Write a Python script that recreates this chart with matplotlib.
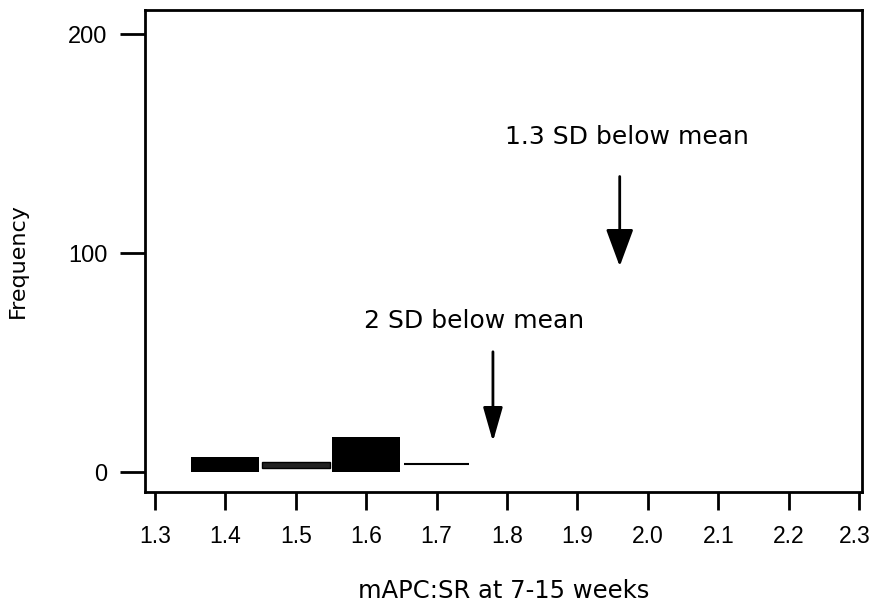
import numpy as np
import matplotlib
matplotlib.use("Agg")
from matplotlib import pyplot as plt
from matplotlib import transforms

# histogram bins of mAPC:SR (left edge, right edge) and counts
bin_left = [1.35, 1.45, 1.55, 1.65]
bin_right = [1.45, 1.55, 1.65, 1.75]
counts = [7, 4.5, 16, 4]

# cut-off markers: x position, arrow start, arrow tip, label
cut_x = [1.78, 1.96]
cut_from = [55, 135]
cut_to = [14, 94]
cut_text = ["2 SD below mean", "1.3 SD below mean"]
cut_text_x = [1.753, 1.97]
cut_text_y = [69, 153]

xticks = [1.3, 1.4, 1.5, 1.6, 1.7, 1.8, 1.9, 2.0, 2.1, 2.2, 2.3]
xticklabels = ["1.3", "1.4", "1.5", "1.6", "1.7", "1.8", "1.9", "2.0", "2.1", "2.2", "2.3"]
yticks = [0, 100, 200]

plt.rcParams['font.family'] = ['DejaVu Sans']

fig = plt.figure(figsize=(8.73, 6.07), dpi=100)
ax = fig.add_axes([145/873, 1-492/607, (862-145)/873, (492-10)/607])

left = np.array(bin_left)
width = np.array(bin_right) - left
gap = 0.004
# solid bars for bins 1 and 3, thin band for bin 2, only the top edge for bin 4
ax.bar(left[[0, 2]] + gap/2, np.array(counts)[[0, 2]], width=width[[0, 2]] - gap,
       align='edge', color='black', linewidth=0)
ax.bar(left[1] + gap/2, counts[1] - 1.8, bottom=1.8, width=width[1] - gap,
       align='edge', color='#222222', edgecolor='black', linewidth=1)
ax.hlines(counts[3], left[3] + gap, left[3] + width[3] - gap, color='black', linewidth=1.5)

heads = ['-|>,head_length=2.1,head_width=0.6', '-|>,head_length=2.3,head_width=0.85']
for x, y0, y1, txt, tx, ty, hd in zip(cut_x, cut_from, cut_to, cut_text, cut_text_x, cut_text_y, heads):
    ax.annotate('', xy=(x, y1), xytext=(x, y0),
                arrowprops=dict(arrowstyle=hd, color='black', lw=2,
                                shrinkA=0, shrinkB=0))
    ax.text(tx, ty, txt, ha='center', va='center', fontsize=18)

tick_font = ['Liberation Sans', 'DejaVu Sans']
ax.set_xlim(1.286, 2.304)
ax.set_ylim(-9, 211)
ax.set_xticks(xticks)
ax.set_xticklabels(xticklabels, fontsize=16.5, family=tick_font)
ax.set_yticks(yticks)
ax.set_yticklabels([str(v) for v in yticks], fontsize=17, family=tick_font)
ax.tick_params(axis='x', length=13, width=2, pad=11)
ax.tick_params(axis='y', length=18, width=2, pad=9)
for s in ax.spines.values():
    s.set_linewidth(2)

# pull the last x label in a little so it stays inside the figure
last = ax.get_xticklabels()[-1]
last.set_transform(last.get_transform() +
                   transforms.ScaledTranslation(-4/100, 0, fig.dpi_scale_trans))

ax.set_xlabel('mAPC:SR at 7-15 weeks', fontsize=17.5, labelpad=22)
ax.set_ylabel('Frequency', fontsize=16)
ax.yaxis.set_label_coords(-0.163, 0.481)

fig.savefig('out.png', dpi=100)
